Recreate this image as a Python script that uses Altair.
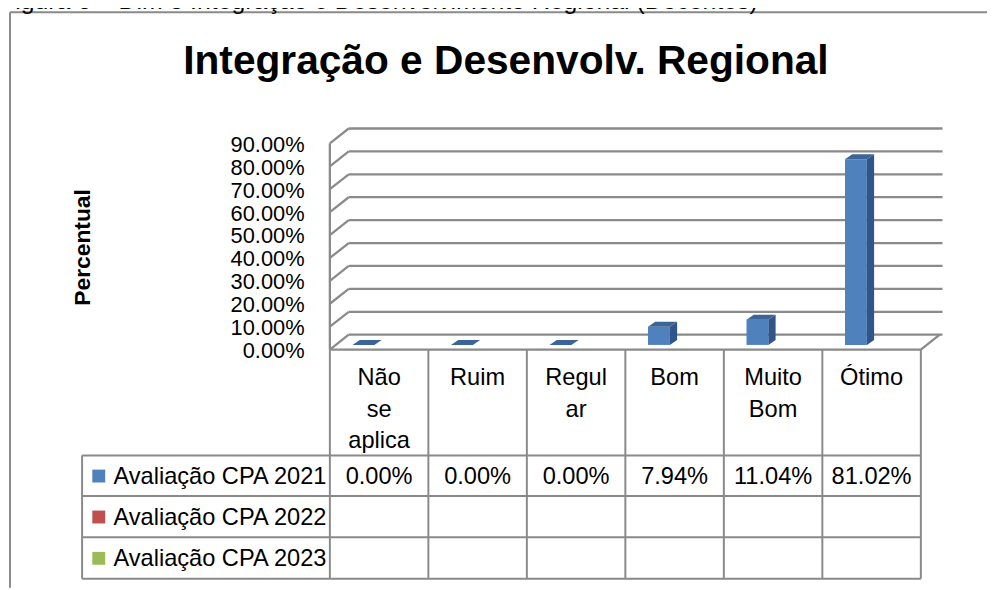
import altair as alt
import pandas as pd

# ---------------- data ----------------
categories = ["Não se aplica", "Ruim", "Regular", "Bom", "Muito Bom", "Ótimo"]
category_lines = ["Não\nse\naplica", "Ruim", "Regul\nar", "Bom", "Muito\nBom", "Ótimo"]
series = ["Avaliação CPA 2021", "Avaliação CPA 2022", "Avaliação CPA 2023"]
series_colors = ["#4F81BD", "#C0504D", "#9BBB59"]
values_2021 = [0.00, 0.00, 0.00, 7.94, 11.04, 81.02]
values_2022 = [None, None, None, None, None, None]
values_2023 = [None, None, None, None, None, None]
y_ticks = [0, 10, 20, 30, 40, 50, 60, 70, 80, 90]
title_text = "Integração e Desenvolv. Regional"
y_title_text = "Percentual"
caption_text = "Figura 6 – Dim 3 Integração e Desenvolvimento Regional (Docentes)"

# ---------------- layout / style ----------------
W, H = 987, 582
X0, CW = 324.5, 99.3          # pixel of category 0 left edge, category width
Y0, PPU = 342.0, 2.31         # pixel of front 0 %, pixels per percent
DX, DY = 19 / CW, 15 / PPU    # wall depth (in data units)
XR = 6.22                     # right end of back gridlines
BASE = 4.7 / PPU              # bar base plane
BX0, BX1 = 0.23, 0.452        # bar front face inside category
BDX, BDY = 7.3 / CW, 5.0 / PPU
FONT = "Liberation Sans"
GRID = "#8A8A8A"
FRONT, SIDE, TOP = "#4F81BD", "#30558A", "#3B6499"
TFS = 23.8

xs = alt.Scale(domain=[-X0 / CW, (W - X0) / CW], range=[0, W], zero=False, nice=False)
ys = alt.Scale(domain=[-(H - Y0) / PPU, Y0 / PPU], range=[H, 0], zero=False, nice=False)
pys = alt.Scale(domain=[0, H], range=[0, H], zero=False, nice=False)

# ---------------- 3D frame ----------------
edges = []
for v in y_ticks:
    edges.append({"x": DX, "x2": XR, "y": v + DY, "y2": v + DY})
    edges.append({"x": 0, "x2": DX, "y": v, "y2": v + DY})
edges.append({"x": 0, "x2": 0, "y": 0, "y2": y_ticks[-1]})
edges.append({"x": 0, "x2": len(categories), "y": 0, "y2": 0})
edges.append({"x": len(categories), "x2": len(categories) + DX, "y": 0, "y2": DY})
edges_df = pd.DataFrame(edges)

frame = alt.Chart(edges_df).mark_rule(color=GRID, strokeWidth=2.3).encode(
    x=alt.X("x:Q", scale=xs, axis=None), x2="x2:Q",
    y=alt.Y("y:Q", scale=ys, axis=None), y2="y2:Q")

# ---------------- bars ----------------
bars_df = pd.DataFrame({"i": list(range(len(categories))), "cat": categories, "v": values_2021})
bars_df["x"] = bars_df["i"] + BX0
bars_df["x2"] = bars_df["i"] + BX1
bars_df["y"] = BASE
bars_df["y2"] = BASE + bars_df["v"]

front = alt.Chart(bars_df[bars_df["v"] > 0]).mark_rect(color=FRONT).encode(
    x=alt.X("x:Q", scale=xs, axis=None), x2="x2:Q",
    y=alt.Y("y:Q", scale=ys, axis=None), y2="y2:Q")

side_rows, top_rows = [], []
for i, (c, v) in enumerate(zip(categories, values_2021)):
    if v > 0:
        side_rows.append({"cat": c, "x": i + BX1, "y": BASE, "y2": BASE + v})
        side_rows.append({"cat": c, "x": i + BX1 + BDX, "y": BASE + BDY, "y2": BASE + v + BDY})
    top_rows.append({"cat": c, "y": BASE + v, "x": i + BX0, "x2": i + BX1})
    top_rows.append({"cat": c, "y": BASE + v + BDY, "x": i + BX0 + BDX, "x2": i + BX1 + BDX})

side = alt.Chart(pd.DataFrame(side_rows)).mark_area(color=SIDE, orient="vertical").encode(
    x=alt.X("x:Q", scale=xs, axis=None),
    y=alt.Y("y:Q", scale=ys, axis=None), y2="y2:Q", detail="cat:N")

top = alt.Chart(pd.DataFrame(top_rows)).mark_area(color=TOP, orient="horizontal").encode(
    y=alt.Y("y:Q", scale=ys, axis=None),
    x=alt.X("x:Q", scale=xs, axis=None), x2="x2:Q", detail="cat:N")

# ---------------- y axis labels ----------------
ticks_df = pd.DataFrame({"v": y_ticks})
ylabels = alt.Chart(ticks_df).transform_calculate(
    lab="format(datum.v, '.2f') + '%'"
).mark_text(font=FONT, fontSize=22, align="right", baseline="middle", color="#000",
            dy=1.5).encode(
    x=alt.value(299), y=alt.Y("v:Q", scale=ys, axis=None), text="lab:N")

# ---------------- data table ----------------
row_lines = [448.7, 489.7, 531.3, 573.0]
row_centers = [(row_lines[k] + row_lines[k + 1]) / 2 for k in range(3)]
table_left = 74.7
table_right = X0 + len(categories) * CW

vlines = alt.Chart(pd.DataFrame({"c": list(range(len(categories) + 1))})).mark_rule(
    color=GRID, strokeWidth=2).encode(
    x=alt.X("c:Q", scale=xs, axis=None), y=alt.value(Y0), y2=alt.value(row_lines[-1]))

hl_df = pd.DataFrame({"y": row_lines})
hlines = alt.Chart(hl_df).mark_rule(color=GRID, strokeWidth=2).encode(
    x=alt.value(table_left), x2=alt.value(table_right),
    y=alt.Y("y:Q", scale=pys, axis=None))
lborder = alt.Chart(pd.DataFrame({"a": [0]})).mark_rule(color=GRID, strokeWidth=2).encode(
    x=alt.value(table_left), y=alt.value(row_lines[0]), y2=alt.value(row_lines[-1]))

cat_df = pd.DataFrame({"c": [i + 0.5 for i in range(len(categories))], "t": category_lines})
cat_text = alt.Chart(cat_df).mark_text(
    font=FONT, fontSize=TFS, align="center", baseline="alphabetic", lineBreak="\n",
    lineHeight=32, color="#000").encode(
    x=alt.X("c:Q", scale=xs, axis=None), y=alt.value(377.5), text="t:N")

all_values = [values_2021, values_2022, values_2023]
val_rows = []
for r, vals in enumerate(all_values):
    for i, v in enumerate(vals):
        if v is not None:
            val_rows.append({"c": i + 0.5, "y": row_centers[r] + 8.3, "v": v})
val_text = alt.Chart(pd.DataFrame(val_rows)).transform_calculate(
    lab="format(datum.v, '.2f') + '%'"
).mark_text(font=FONT, fontSize=TFS, align="center", baseline="alphabetic", color="#000").encode(
    x=alt.X("c:Q", scale=xs, axis=None), y=alt.Y("y:Q", scale=pys, axis=None), text="lab:N")

leg_df = pd.DataFrame({"s": series, "col": series_colors,
                       "yt": [c + 8.3 for c in row_centers], "ys": [c + 0.3 for c in row_centers]})
leg_sw = alt.Chart(leg_df).mark_square(size=169, opacity=1).encode(
    x=alt.value(91.5), y=alt.Y("ys:Q", scale=pys, axis=None),
    color=alt.Color("col:N", scale=None, legend=None))
leg_tx = alt.Chart(leg_df).mark_text(
    font=FONT, fontSize=TFS, align="left", baseline="alphabetic", color="#000").encode(
    x=alt.value(106.3), y=alt.Y("yt:Q", scale=pys, axis=None), text="s:N")

# ---------------- titles, box, caption ----------------
title = alt.Chart(pd.DataFrame({"t": [title_text]})).mark_text(
    font=FONT, fontSize=41, fontWeight="bold", align="center", baseline="alphabetic",
    color="#000").encode(x=alt.value(502), y=alt.value(63.7), text="t:N")
ytitle = alt.Chart(pd.DataFrame({"t": [y_title_text]})).mark_text(
    font=FONT, fontSize=23, fontWeight="bold", align="center", baseline="middle",
    angle=270, color="#000").encode(x=alt.value(76), y=alt.value(239), text="t:N")
caption = alt.Chart(pd.DataFrame({"t": [caption_text]})).mark_text(
    font=FONT, fontSize=25, align="left", baseline="alphabetic", color="#000").encode(
    x=alt.value(-8), y=alt.value(-1), text="t:N")
box_top = alt.Chart(pd.DataFrame({"a": [0]})).mark_rule(color="#8A8A8A", strokeWidth=2).encode(
    x=alt.value(2), x2=alt.value(W), y=alt.value(2))
box_left = alt.Chart(pd.DataFrame({"a": [0]})).mark_rule(color="#8A8A8A", strokeWidth=2).encode(
    x=alt.value(2), y=alt.value(2), y2=alt.value(H))

chart = alt.layer(
    box_top, box_left, caption, title, ytitle, ylabels,
    frame, vlines, hlines, lborder,
    front, side, top,
    cat_text, val_text, leg_sw, leg_tx,
).resolve_scale(x="independent", y="independent").properties(
    width=W, height=H, padding=0, autosize=alt.AutoSizeParams(type="none"),
    background="white",
).configure_view(strokeWidth=0)

chart.save("out.html", embed_options={"renderer": "svg", "actions": False})
